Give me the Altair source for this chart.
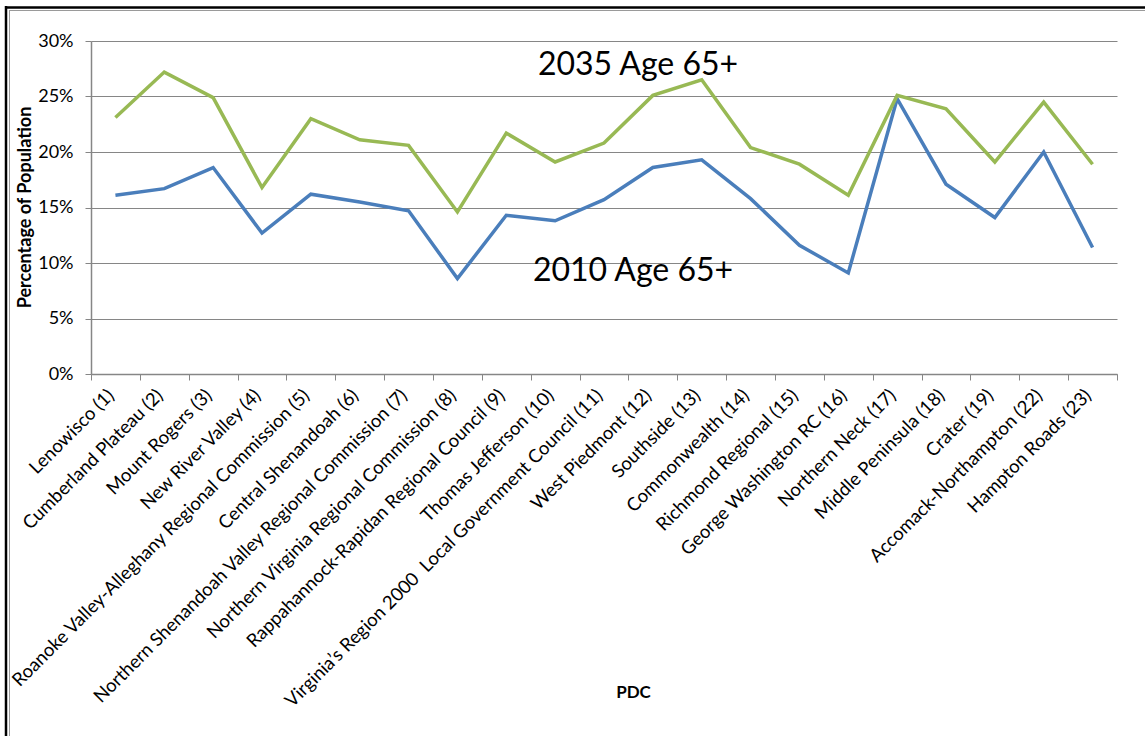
import altair as alt
import pandas as pd

# Planning District Commissions, in chart order
pdc = [
    "Lenowisco (1)",
    "Cumberland Plateau (2)",
    "Mount Rogers (3)",
    "New River Valley (4)",
    "Roanoke Valley-Alleghany Regional Commission (5)",
    "Central Shenandoah (6)",
    "Northern Shenandoah Valley Regional Commission (7)",
    "Northern Virginia Regional Commission (8)",
    "Rappahannock-Rapidan Regional Council (9)",
    "Thomas Jefferson (10)",
    "Virginia\u2019s Region 2000\u00a0 Local Government Council (11)",
    "West Piedmont (12)",
    "Southside (13)",
    "Commonwealth (14)",
    "Richmond Regional (15)",
    "George Washington RC (16)",
    "Northern Neck (17)",
    "Middle Peninsula (18)",
    "Crater (19)",
    "Accomack-Northampton (22)",
    "Hampton Roads (23)",
]

# Share of population aged 65 and over
age65_2010 = [0.161, 0.167, 0.186, 0.127, 0.162, 0.155, 0.147, 0.086, 0.143, 0.138,
              0.157, 0.186, 0.193, 0.158, 0.116, 0.091, 0.248, 0.171, 0.141, 0.200, 0.114]
age65_2035 = [0.231, 0.272, 0.249, 0.168, 0.230, 0.211, 0.206, 0.146, 0.217, 0.191,
              0.208, 0.251, 0.265, 0.204, 0.189, 0.161, 0.251, 0.239, 0.191, 0.245, 0.189]

series_names = ["2010 Age 65+", "2035 Age 65+"]
series_colors = ["#4A7EBB", "#98B954"]

rows = []
for name, values in zip(series_names, [age65_2010, age65_2035]):
    for region, v in zip(pdc, values):
        rows.append({"PDC": region, "share": v, "series": name})
df = pd.DataFrame(rows)

FONT = "Lato"
GRID = "#868686"

W, H = 1026, 333
PAD_L, PAD_T = 91, 41

lines = alt.Chart(df).mark_line(strokeWidth=3.5, strokeJoin="miter").encode(
    x=alt.X(
        "PDC:N",
        sort=pdc,
        scale=alt.Scale(type="band", paddingInner=0, paddingOuter=0),
        bandPosition=0.5,
        axis=alt.Axis(
            title="PDC",
            titleFont=FONT,
            titleFontSize=17,
            titleFontWeight="bold",
            titleColor="black",
            titleX=542,
            titleY=318,
            titleAnchor="start",
            titleAlign="center",
            titleBaseline="middle",
            labelAngle=-45,
            labelAlign="right",
            labelBaseline="middle",
            labelFont=FONT,
            labelFontSize=18.5,
            labelColor="black",
            labelPadding=12,
            labelOffset=-5,
            labelLimit=0,
            labelOverlap=False,
            tickBand="extent",
            tickSize=6,
            tickColor=GRID,
            domainColor=GRID,
            domainWidth=1.5,
            grid=False,
        ),
    ),
    y=alt.Y(
        "share:Q",
        scale=alt.Scale(domain=[0, 0.30], nice=False, zero=True),
        axis=alt.Axis(
            title="Percentage of Population",
            titleFont=FONT,
            titleFontSize=18,
            titleFontWeight="bold",
            titleColor="black",
            titleAngle=-90,
            titleX=-66,
            titleY=166,
            titleAlign="center",
            titleBaseline="middle",
            values=[0, 0.05, 0.10, 0.15, 0.20, 0.25, 0.30],
            format=".0%",
            labelFont=FONT,
            labelFontSize=18,
            labelColor="black",
            labelPadding=12,
            tickSize=6,
            tickColor=GRID,
            domainColor=GRID,
            domainWidth=1.5,
            grid=True,
            gridColor=GRID,
            gridWidth=1,
        ),
    ),
    color=alt.Color(
        "series:N",
        scale=alt.Scale(domain=series_names, range=series_colors),
        legend=None,
    ),
)

# Series captions written on the plot
caption_df = pd.DataFrame({
    "label": series_names,
    "px": [542, 547],
    "py": [230, 24],
})
captions = alt.Chart(caption_df).mark_text(
    font=FONT, fontSize=32, color="black", align="center", baseline="middle"
).encode(
    text="label:N",
    x=alt.X("px:Q", scale=None),
    y=alt.Y("py:Q", scale=None),
)

# Outer frame (top and left edges)
one = pd.DataFrame({"k": [0]})
frame_top = alt.Chart(one).mark_rule(color="black", strokeWidth=2.5).encode(
    x=alt.value(5 - PAD_L), x2=alt.value(1145 - PAD_L), y=alt.value(7.5 - PAD_T)
)
frame_left = alt.Chart(one).mark_rule(color="black", strokeWidth=2.5).encode(
    x=alt.value(6 - PAD_L), y=alt.value(6 - PAD_T), y2=alt.value(736 - PAD_T)
)
inner_top = alt.Chart(one).mark_rule(color="#9a9a9a", strokeWidth=1).encode(
    x=alt.value(9 - PAD_L), x2=alt.value(1145 - PAD_L), y=alt.value(10.5 - PAD_T)
)
inner_left = alt.Chart(one).mark_rule(color="#9a9a9a", strokeWidth=1).encode(
    x=alt.value(9.5 - PAD_L), y=alt.value(10 - PAD_T), y2=alt.value(736 - PAD_T)
)

chart = alt.layer(
    lines, captions, frame_top, frame_left, inner_top, inner_left
).properties(
    width=W,
    height=H,
    padding={"left": PAD_L, "top": PAD_T, "right": 1145 - PAD_L - W, "bottom": 736 - PAD_T - H},
    autosize=alt.AutoSizeParams(type="none"),
    background="white",
).configure_view(
    stroke=None
)

chart.save("out.html", embed_options={"renderer": "svg", "actions": False})
